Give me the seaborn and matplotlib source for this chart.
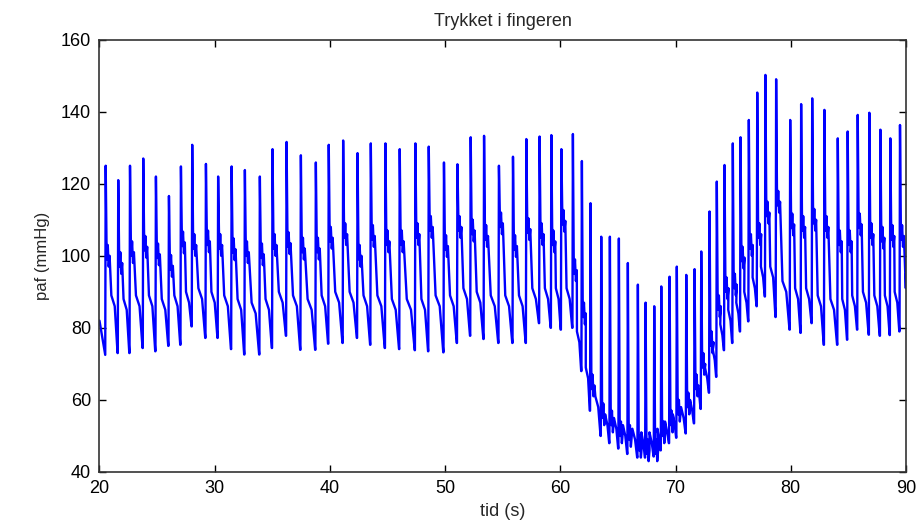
import numpy as np
import pandas as pd
import matplotlib
matplotlib.use("Agg")
import matplotlib.pyplot as plt
import seaborn as sns

# Per-beat readings from the picture
beat_time = [20.54, 21.63, 22.65, 23.80, 24.90, 26.03, 27.07, 28.05, 29.24, 30.30,
             31.47, 32.62, 33.92, 35.02, 36.24, 37.48, 38.78, 39.90, 41.15, 42.40,
             43.55, 44.82, 46.06, 47.42, 48.58, 49.90, 51.07, 52.22, 53.38, 54.67,
             55.89, 57.05, 58.20, 59.22, 60.09, 61.09, 61.87, 62.62, 63.55, 64.30,
             65.08, 65.86, 66.73, 67.40, 68.15, 68.76, 69.48, 70.11, 70.93, 71.65,
             72.23, 72.95, 73.58, 74.25, 74.97, 75.64, 76.36, 77.09, 77.80, 78.73,
             79.95, 80.90, 81.86, 82.92, 84.08, 84.94, 85.81, 86.82, 87.78, 88.64,
             89.48]
systolic = [125, 121, 125, 127, 122, 116.6, 124.8, 130.8, 125.5, 122,
            124.8, 123.8, 122, 129.6, 131.6, 127.9, 125.9, 130.8, 132, 128.5,
            131.2, 131.2, 129.6, 131.2, 130.3, 125.9, 125.4, 132.9, 133.3, 125,
            127.5, 132.4, 133.1, 133.5, 129.6, 133.8, 126.3, 114.6, 105.3, 105.3,
            104.8, 98, 92, 87, 86, 91.5, 94.2, 97, 94.7, 96.3,
            101.2, 112.3, 120.6, 125.2, 131.2, 132.9, 137.7, 145.3, 150.2, 149,
            137.7, 142.1, 143.7, 140.5, 132.6, 134.5, 139.1, 139.7, 135, 132.6,
            136.3]
notch = [104, 102, 105, 106.5, 104.4, 101.2, 107.7, 107, 108, 107,
         105.8, 105, 104.4, 107, 107.5, 106, 106, 109, 110, 104,
         109.5, 108, 108, 110, 112, 106.7, 112, 111, 109.5, 113,
         106.7, 111.4, 110, 108, 113.7, 100, 88, 68, 60, 58,
         55, 54, 51, 50, 50, 55, 58, 61, 63, 68,
         74, 80, 90, 95, 96, 103.5, 107, 110, 116, 119,
         112.7, 112, 114, 112, 108, 108, 112.7, 110, 109, 109.5,
         109.5]
plateau = [86, 85, 86, 86, 85, 86, 87, 88, 87, 86,
           85, 84, 85, 87, 86, 85, 86, 87, 87, 86,
           86, 85, 85, 85, 86, 86, 88, 87, 86, 86,
           86, 88, 88, 88, 88, 76, 66, 58, 53, 52,
           50, 49, 48, 48, 49, 51, 53, 55, 57, 61,
           66, 71, 78, 82, 84, 87, 91, 94, 94, 90,
           88, 88, 86, 85, 85, 86, 87, 86, 86, 87,
           88]
foot = [72.5, 73, 73, 74.4, 73.5, 75, 75.3, 80.4, 77.2, 77.2,
        74.1, 72.6, 72.6, 74.4, 77.8, 73.9, 73.9, 75.6, 75.8, 77.2,
        75.3, 74.4, 74.1, 73.8, 73.5, 73.2, 75.8, 77.8, 76.9, 75.8,
        75.8, 75.8, 81.3, 80, 79.5, 80, 68, 57, 50, 48,
        46.5, 45, 44, 44, 44.3, 46, 48, 49.5, 50.7, 53.5,
        57.5, 62, 66.4, 73.8, 75.8, 79, 81.8, 86, 88.7, 83,
        79.5, 78.6, 81.3, 75.3, 75.3, 76.7, 79.5, 78.1, 77.8, 78,
        79]
start_value = 82
end_value = 95

# Build the pressure trace from the per-beat readings
ts = [20.0]
ps = [start_value]
n = len(beat_time)
for i in range(n):
    t0 = beat_time[i]
    nxt = beat_time[i + 1] if i + 1 < n else 90.6
    nf = foot[i + 1] if i + 1 < n else end_value - 10
    dt = nxt - t0
    ts += [t0 - 0.04, t0, t0 + 0.07, t0 + 0.12, t0 + 0.18, t0 + 0.26,
           t0 + 0.34, t0 + 0.45 * dt, t0 + 0.72 * dt, nxt - 0.06]
    ps += [foot[i], systolic[i], notch[i], notch[i] - 5, notch[i] - 1,
           notch[i] - 7, notch[i] - 4, plateau[i] + 3, plateau[i], nf]

df = pd.DataFrame({"tid": ts, "paf": ps})
df = df[df["tid"] <= 90.0]
df = pd.concat([df, pd.DataFrame({"tid": [90.0], "paf": [end_value]})])

sns.set_style("white")
plt.rcParams["font.family"] = ["Liberation Sans", "DejaVu Sans"]

fig = plt.figure(figsize=(9.21, 5.26), dpi=100)
ax = fig.add_axes([0.108, 0.1027, 0.8757, 0.822])
sns.lineplot(data=df, x="tid", y="paf", sort=False, estimator=None,
             color="#0000ff", linewidth=1.7, ax=ax)

ax.set_xlim(20, 90)
ax.set_ylim(40, 160)
ax.set_xticks(range(20, 91, 10))
ax.set_yticks(range(40, 161, 20))
ax.tick_params(direction="in", length=5, width=1, labelsize=13, pad=6,
               top=True, right=True, bottom=True, left=True, colors="black")
for s in ax.spines.values():
    s.set_visible(True)
    s.set_color("#333333")
    s.set_linewidth(1.2)
ax.set_title("Trykket i fingeren", fontsize=13, pad=10)
ax.set_xlabel("tid (s)", fontsize=13, labelpad=4)
ax.set_ylabel("paf (mmHg)", fontsize=12, labelpad=8)

fig.savefig("out.png", dpi=100)
